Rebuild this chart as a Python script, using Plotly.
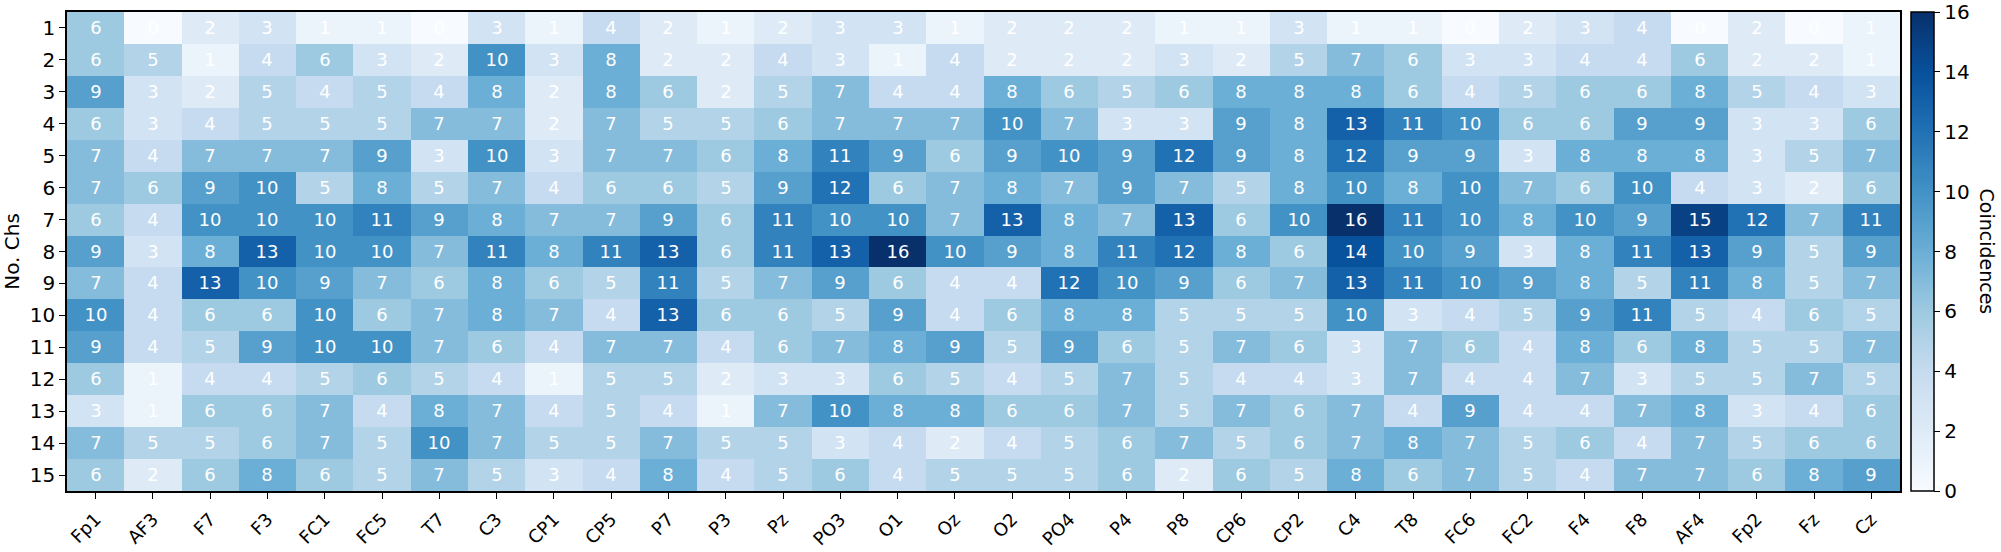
import plotly.graph_objects as go

channels = ["Fp1", "AF3", "F7", "F3", "FC1", "FC5", "T7", "C3", "CP1", "CP5", "P7", "P3", "Pz", "PO3",
            "O1", "Oz", "O2", "PO4", "P4", "P8", "CP6", "CP2", "C4", "T8", "FC6", "FC2", "F4", "F8",
            "AF4", "Fp2", "Fz", "Cz"]
n_chs = list(range(1, 16))

row_1 = [6, 0, 2, 3, 1, 1, 0, 3, 1, 4, 2, 1, 2, 3, 3, 1, 2, 2, 2, 1, 1, 3, 1, 1, 0, 2, 3, 4, 0, 2, 0, 1]
row_2 = [6, 5, 1, 4, 6, 3, 2, 10, 3, 8, 2, 2, 4, 3, 1, 4, 2, 2, 2, 3, 2, 5, 7, 6, 3, 3, 4, 4, 6, 2, 2, 1]
row_3 = [9, 3, 2, 5, 4, 5, 4, 8, 2, 8, 6, 2, 5, 7, 4, 4, 8, 6, 5, 6, 8, 8, 8, 6, 4, 5, 6, 6, 8, 5, 4, 3]
row_4 = [6, 3, 4, 5, 5, 5, 7, 7, 2, 7, 5, 5, 6, 7, 7, 7, 10, 7, 3, 3, 9, 8, 13, 11, 10, 6, 6, 9, 9, 3, 3, 6]
row_5 = [7, 4, 7, 7, 7, 9, 3, 10, 3, 7, 7, 6, 8, 11, 9, 6, 9, 10, 9, 12, 9, 8, 12, 9, 9, 3, 8, 8, 8, 3, 5, 7]
row_6 = [7, 6, 9, 10, 5, 8, 5, 7, 4, 6, 6, 5, 9, 12, 6, 7, 8, 7, 9, 7, 5, 8, 10, 8, 10, 7, 6, 10, 4, 3, 2, 6]
row_7 = [6, 4, 10, 10, 10, 11, 9, 8, 7, 7, 9, 6, 11, 10, 10, 7, 13, 8, 7, 13, 6, 10, 16, 11, 10, 8, 10, 9, 15, 12, 7, 11]
row_8 = [9, 3, 8, 13, 10, 10, 7, 11, 8, 11, 13, 6, 11, 13, 16, 10, 9, 8, 11, 12, 8, 6, 14, 10, 9, 3, 8, 11, 13, 9, 5, 9]
row_9 = [7, 4, 13, 10, 9, 7, 6, 8, 6, 5, 11, 5, 7, 9, 6, 4, 4, 12, 10, 9, 6, 7, 13, 11, 10, 9, 8, 5, 11, 8, 5, 7]
row_10 = [10, 4, 6, 6, 10, 6, 7, 8, 7, 4, 13, 6, 6, 5, 9, 4, 6, 8, 8, 5, 5, 5, 10, 3, 4, 5, 9, 11, 5, 4, 6, 5]
row_11 = [9, 4, 5, 9, 10, 10, 7, 6, 4, 7, 7, 4, 6, 7, 8, 9, 5, 9, 6, 5, 7, 6, 3, 7, 6, 4, 8, 6, 8, 5, 5, 7]
row_12 = [6, 1, 4, 4, 5, 6, 5, 4, 1, 5, 5, 2, 3, 3, 6, 5, 4, 5, 7, 5, 4, 4, 3, 7, 4, 4, 7, 3, 5, 5, 7, 5]
row_13 = [3, 1, 6, 6, 7, 4, 8, 7, 4, 5, 4, 1, 7, 10, 8, 8, 6, 6, 7, 5, 7, 6, 7, 4, 9, 4, 4, 7, 8, 3, 4, 6]
row_14 = [7, 5, 5, 6, 7, 5, 10, 7, 5, 5, 7, 5, 5, 3, 4, 2, 4, 5, 6, 7, 5, 6, 7, 8, 7, 5, 6, 4, 7, 5, 6, 6]
row_15 = [6, 2, 6, 8, 6, 5, 7, 5, 3, 4, 8, 4, 5, 6, 4, 5, 5, 5, 6, 2, 6, 5, 8, 6, 7, 5, 4, 7, 7, 6, 8, 9]

z = [row_1, row_2, row_3, row_4, row_5, row_6, row_7, row_8, row_9, row_10,
     row_11, row_12, row_13, row_14, row_15]

blues = ['rgb(247,251,255)', 'rgb(222,235,247)', 'rgb(198,219,239)', 'rgb(158,202,225)',
         'rgb(107,174,214)', 'rgb(66,146,198)', 'rgb(33,113,181)', 'rgb(8,81,156)', 'rgb(8,48,107)']
colorscale = [[i / (len(blues) - 1), c] for i, c in enumerate(blues)]

W, H = 2001, 552
ml, mr, mt, mb = 67, 101, 12, 61
pw = W - ml - mr

font = "DejaVu Sans"

fig = go.Figure(go.Heatmap(
    z=z, x=channels, y=n_chs,
    colorscale=colorscale, zmin=0, zmax=16,
    texttemplate="%{z}", textfont=dict(color="white", size=18, family=font),
    colorbar=dict(
        thickness=23, len=1, lenmode="fraction", y=0.5, yanchor="middle",
        x=1 + 11 / pw, xanchor="left", xpad=0, ypad=0,
        outlinecolor="black", outlinewidth=1.5,
        tickmode="array", tickvals=[0, 2, 4, 6, 8, 10, 12, 14, 16],
        ticks="outside", ticklen=6, tickcolor="black", tickwidth=1.2,
        tickfont=dict(size=20, family=font, color="black"),
    ),
))

fig.add_annotation(
    text="Coincidences", textangle=90, xref="paper", yref="paper",
    x=1 + (1987 - 1900) / pw, y=0.5, showarrow=False,
    font=dict(size=19, family=font, color="black"), xanchor="center", yanchor="middle",
)

fig.update_layout(
    width=W, height=H, margin=dict(l=ml, r=mr, t=mt, b=mb, autoexpand=False),
    paper_bgcolor="white", plot_bgcolor="white",
    font=dict(family=font, color="black"),
)
fig.update_xaxes(
    tickangle=-45, tickfont=dict(size=18, family=font, color="black"),
    ticklabelstandoff=3, automargin=False,
    showline=True, mirror=True, linecolor="black", linewidth=1.5,
    ticks="outside", ticklen=6, tickcolor="black", tickwidth=1.2,
    showgrid=False, zeroline=False,
)
fig.update_yaxes(
    autorange="reversed", tickmode="array", tickvals=n_chs, automargin=False,
    tickfont=dict(size=20, family=font, color="black"),
    title=dict(text="No. Chs", font=dict(size=20, family=font, color="black"), standoff=6),
    showline=True, mirror=True, linecolor="black", linewidth=1.5,
    ticks="outside", ticklen=6, tickcolor="black", tickwidth=1.2,
    showgrid=False, zeroline=False,
)

fig.write_html("out.html", config={"displayModeBar": False},
               post_script="document.body.style.margin='0px'; document.body.style.overflow='hidden';")
